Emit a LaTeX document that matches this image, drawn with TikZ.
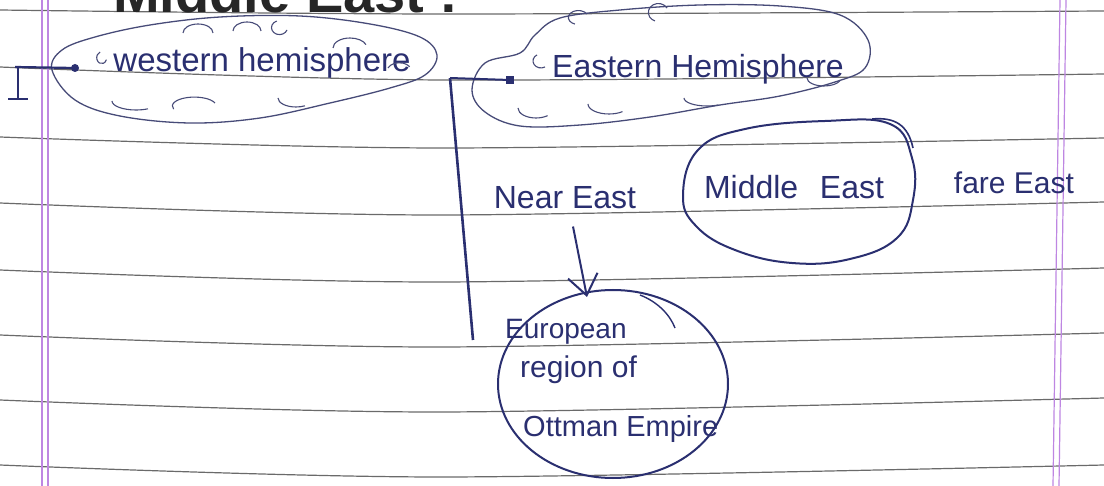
\documentclass[tikz,border=0pt]{standalone}
\usepackage{fontspec}
\setmainfont{Liberation Sans}
\usetikzlibrary{shapes.geometric,arrows.meta,calc}
\definecolor{ink}{HTML}{2A2F70}
\definecolor{pencil}{HTML}{474B78}
\definecolor{ruleline}{HTML}{6A6A6A}
\definecolor{marginline}{HTML}{BE86E2}
\tikzset{
  hand/.style={inner sep=0pt, text=ink, font=\fontsize{32}{36}\selectfont},
  smallhand/.style={inner sep=0pt, text=ink, font=\fontsize{28}{32}\selectfont},
  holder/.style={ellipse, inner sep=0pt},
  cloudline/.style={draw=pencil, line width=1.3pt},
  ring/.style={ellipse, draw=ink, line width=2pt, inner sep=0pt},
  link/.style={draw=ink, line width=2.6pt},
  curl/.style={draw=pencil, line width=1.1pt},
  paper/.style={draw=ruleline, line width=1.2pt},
  marginrule/.style={draw=marginline, line width=1.2pt},
}
\begin{document}
\begin{tikzpicture}[x=1pt,y=-1pt]
\useasboundingbox (0,0) rectangle (1104,486);
\clip (0,0) rectangle (1104,486);
\fill[white] (0,0) rectangle (1104,486);
% ruled paper
\foreach \a/\b/\c in {10/14/11, 67/80/74, 137/148/138, 203/215/202, 270/282/268, 335/347/333, 400/412/398, 465/477/465}
  \draw[paper] plot[smooth] coordinates {(0,\a) (440,\b) (1104,\c)};
\draw[marginrule] (42,0) -- (42,486);
\draw[marginrule] (48,0) -- (48,486);
\draw[marginrule] (1060,0) -- (1053,486);
\draw[marginrule] (1066,0) -- (1059,486);
% title (cut off at the top, as in the reference)
\node[anchor=base west, inner sep=0pt, font=\fontsize{56}{60}\selectfont\bfseries, text=black!85] (title) at (113,13) {Middle East :};
% western hemisphere cloud
\node[holder, minimum width=388pt, minimum height=108pt] (wh) at (245,70) {};
\draw[cloudline] plot[smooth cycle, tension=0.6] coordinates
  {(52,70) (62,50) (95,37) (150,25) (220,17) (300,16) (370,24) (420,37) (437,55) (425,75) (390,88) (330,103) (260,118) (190,123) (120,116) (75,100)};
\node[hand, anchor=base, font=\fontsize{33}{36}\selectfont] (whtext) at (262,72) {western hemisphere};
\draw[curl] (100,52) arc[start angle=250, end angle=20, x radius=5, y radius=6];
\draw[curl] (183,33) arc[start angle=180, end angle=360, x radius=15, y radius=9];
\draw[curl] (233,31) arc[start angle=180, end angle=360, x radius=14, y radius=9];
\draw[curl] (287,30) arc[start angle=20, end angle=250, x radius=8, y radius=7];
\draw[curl] (333,48) arc[start angle=180, end angle=340, x radius=17, y radius=10];
\draw[curl] (112,101) arc[start angle=180, end angle=60, x radius=24, y radius=9];
\draw[curl] (215,103) arc[start angle=-20, end angle=-200, x radius=22, y radius=9];
\draw[curl] (278,98) arc[start angle=180, end angle=60, x radius=18, y radius=9];
\draw[curl] (388,68) arc[start angle=200, end angle=330, x radius=12, y radius=8];
% eastern hemisphere cloud
\node[holder, minimum width=402pt, minimum height=130pt] (eh) at (672,66) {};
\draw[cloudline] plot[smooth cycle, tension=0.6] coordinates
  {(472,90) (485,63) (520,53) (535,35) (560,18) (620,10) (700,5) (780,6) (840,15) (868,40) (865,68) (835,82) (780,96) (720,105) (650,117) (580,125) (520,126) (485,112)};
\node[hand, anchor=base] (ehtext) at (698,78) {Eastern Hemisphere};
\draw[curl] (587,14) arc[start angle=-30, end angle=-250, x radius=10, y radius=7];
\draw[curl] (667,8) arc[start angle=-30, end angle=-250, x radius=10, y radius=9];
\draw[curl] (545,67) arc[start angle=60, end angle=240, x radius=8, y radius=7];
\draw[curl] (807,78) arc[start angle=180, end angle=20, x radius=17, y radius=8];
\draw[curl] (518,108) arc[start angle=180, end angle=50, x radius=18, y radius=10];
\draw[curl] (588,104) arc[start angle=180, end angle=50, x radius=21, y radius=10];
\draw[curl] (684,98) arc[start angle=180, end angle=60, x radius=23, y radius=8];
% middle row
\node[hand, anchor=base] (near) at (565,209) {Near East};
\node[holder, minimum width=232pt, minimum height=139pt] (mid) at (799,192) {};
\draw[ink, line width=2pt] plot[smooth cycle, tension=0.7] coordinates
  {(683,195) (698,150) (745,129) (825,121) (890,124) (912,158) (913,200) (897,238) (850,259) (792,263) (735,250) (696,226)};
\draw[ink, line width=1.6pt] (872,119) .. controls (895,117) and (908,125) .. (913,148);
\node[hand, anchor=base] (midtext) at (794,199) {Middle\hspace{0.4em} East};
\node[hand, anchor=base, font=\fontsize{30}{34}\selectfont] (far) at (1014,194) {fare East};
% european region circle
\node[ring, minimum width=230pt, minimum height=188pt] (eu) at (613,384) {};
\draw[ink, line width=1.4pt] (640,295) .. controls (658,302) and (670,315) .. (675,328);
\node[smallhand, anchor=base west] (eu1) at (505,339) {European};
\node[smallhand, anchor=base west, font=\fontsize{30}{32}\selectfont] (eu2) at (520,378) {region of};
\node[smallhand, anchor=base west, font=\fontsize{29}{32}\selectfont] (eu3) at (523,437) {Ottman Empire};
% arrow Near East -> European region
\draw[link, line width=2pt, -{Straight Barb[length=20pt,width=30pt,line width=2pt]}]
  ($(near.south)+(8,17)$) -- ($(eu.north)+(-26,8)$);
% eastern bracket
\coordinate (ebot) at (473,340);
\coordinate (ecorner) at (450,78);
\coordinate (edot) at (510,80);
\draw[link] (ebot) -- (ecorner);
\draw[link, line width=2pt] (ecorner) -- (edot);
\fill[ink] ($(edot)+(-4,-4)$) rectangle ($(edot)+(4,4)$);
% western bracket
\coordinate (lbtop) at (15,67);
\coordinate (wdot) at (75,68);
\coordinate (lbstem) at (18,67);
\coordinate (lbbot) at (18,99);
\draw[link, line width=2.2pt] (lbtop) -- (wdot);
\draw[link, line width=2.2pt] (lbstem) -- (lbbot);
\draw[link, line width=2.2pt] (8,99) -- (28,99);
\fill[ink] (wdot) circle (4);
\end{tikzpicture}
\end{document}
